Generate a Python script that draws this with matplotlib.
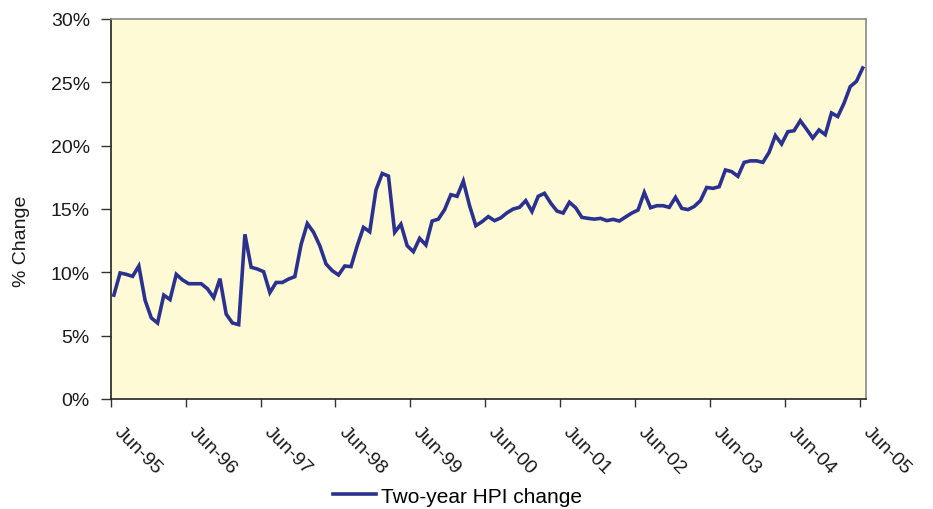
import matplotlib
matplotlib.use("Agg")
import matplotlib.pyplot as plt
from matplotlib.ticker import FuncFormatter

plt.rcParams['font.family'] = ['Liberation Sans', 'DejaVu Sans']

tick_labels = ["Jun-95", "Jun-96", "Jun-97", "Jun-98", "Jun-99", "Jun-00",
               "Jun-01", "Jun-02", "Jun-03", "Jun-04", "Jun-05"]
series_name = "Two-year HPI change"
hpi_change = [
    8.2, 9.95, 9.84, 9.68, 10.5, 7.8, 6.4, 6.0, 8.2, 7.85,
    9.84, 9.4, 9.1, 9.1, 9.1, 8.7, 8.0, 9.5, 6.7, 6.0,
    5.87, 13.0, 10.4, 10.26, 10.05, 8.4, 9.2, 9.2, 9.47, 9.66,
    12.2, 13.85, 13.16, 12.1, 10.66, 10.13, 9.79, 10.5, 10.45, 12.1,
    13.55, 13.2, 16.5, 17.8, 17.6, 13.16, 13.8, 12.1, 11.63, 12.68,
    12.16, 14.05, 14.2, 14.95, 16.13, 16.0, 17.2, 15.26, 13.68, 14.0,
    14.4, 14.08, 14.3, 14.7, 15.0, 15.13, 15.66, 14.8, 16.0, 16.24,
    15.47, 14.84, 14.68, 15.53, 15.1, 14.34, 14.26, 14.2, 14.26, 14.08,
    14.18, 14.05, 14.37, 14.68, 14.92, 16.3, 15.1, 15.26, 15.26, 15.13,
    15.92, 15.05, 14.95, 15.2, 15.66, 16.7, 16.63, 16.76, 18.08, 17.95,
    17.58, 18.68, 18.8, 18.8, 18.68, 19.47, 20.8, 20.13, 21.1, 21.18,
    21.97, 21.3, 20.6, 21.24, 20.87, 22.58, 22.3, 23.34, 24.66, 25.08,
    26.13,
]

n = len(hpi_change)
x = list(range(n))

fig = plt.figure(figsize=(9.33, 5.10), dpi=100)
ax = fig.add_axes([0.1187, 0.2157, 0.8093, 0.7451])
ax.set_facecolor('#FFFAD6')

line, = ax.plot(x, hpi_change, color='#2B318F', lw=2.6, solid_joinstyle='miter')

ax.set_xlim(-0.5, n - 0.5)
ax.set_ylim(0, 30)
ax.set_yticks(range(0, 31, 5))
ax.yaxis.set_major_formatter(FuncFormatter(lambda v, p: f"{int(v)}%"))

xt = [i * 12 - 0.5 for i in range(len(tick_labels))]
ax.set_xticks(xt)
ax.set_xticklabels(tick_labels, rotation=-45, ha='left', va='top',
                   rotation_mode='default')

for lab in ax.get_xticklabels() + ax.get_yticklabels():
    lab.set_fontsize(14)
    lab.set_color('#1a1a1a')

ax.tick_params(axis='y', direction='out', length=7, width=1, pad=8, color='#333333')
ax.tick_params(axis='x', direction='out', length=6, width=1, pad=11, color='#333333')

for s in ['left', 'bottom']:
    ax.spines[s].set_color('#222222')
    ax.spines[s].set_linewidth(1.2)
for s in ['top', 'right']:
    ax.spines[s].set_color('#8a8a8a')
    ax.spines[s].set_linewidth(1.2)

ax.set_ylabel("% Change", fontsize=14, color='#1a1a1a')
ax.yaxis.label.set_va('center')
ax.yaxis.set_label_coords(-0.118, 0.418)

fig.legend([line], [series_name], loc='center', bbox_to_anchor=(0.49, 0.025),
           frameon=False, fontsize=15, handlelength=2.1, handletextpad=0.2)

fig.savefig("out.png", dpi=100)
